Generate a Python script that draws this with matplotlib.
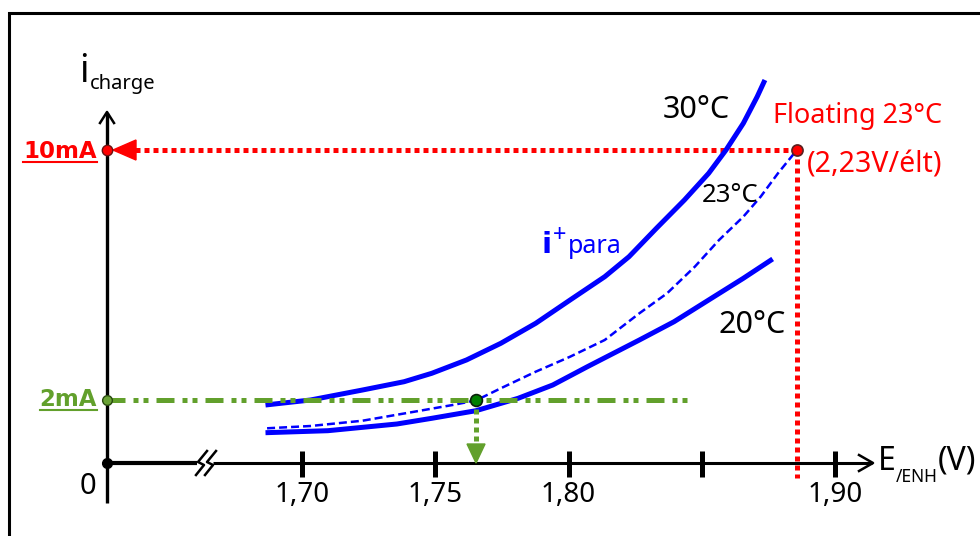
import matplotlib
matplotlib.use('Agg')
import matplotlib.pyplot as plt
from matplotlib.transforms import IdentityTransform
from matplotlib.lines import Line2D
from matplotlib.patches import Polygon

# ---------------- data : E (V / ENH)  vs  charge current (mA) ----------------
v_30 = [1.6863, 1.7032, 1.7227, 1.7383, 1.7487, 1.7617, 1.7746, 1.7877, 1.8006, 1.8136,
        1.8227, 1.8331, 1.8435, 1.8526, 1.8591, 1.8656, 1.8708, 1.8737]
i_30 = [1.853, 2.013, 2.332, 2.597, 2.866, 3.291, 3.824, 4.463, 5.208, 5.952,
        6.591, 7.508, 8.403, 9.256, 10.0, 10.853, 11.703, 12.236]

v_23 = [1.6869, 1.7032, 1.7227, 1.7422, 1.7565, 1.7653, 1.7746, 1.7877, 1.8006, 1.8136,
        1.8266, 1.8370, 1.8474, 1.8565, 1.8656, 1.8721, 1.8786, 1.8857]
i_23 = [1.109, 1.182, 1.351, 1.639, 1.853, 2.0, 2.387, 2.917, 3.396, 3.930,
        4.783, 5.422, 6.272, 7.125, 7.869, 8.508, 9.256, 10.0]

v_20 = [1.6863, 1.7097, 1.7356, 1.7487, 1.7653, 1.7811, 1.7941, 1.8071, 1.8266, 1.8396,
        1.8526, 1.8656, 1.8766]
i_20 = [0.968, 1.032, 1.246, 1.428, 1.671, 2.067, 2.492, 3.077, 3.930, 4.514,
        5.208, 5.901, 6.518]

tick_values = [1.70, 1.75, 1.80, 1.85, 1.90]
tick_labels = ['1,70', '1,75', '1,80', '', '1,90']

float_v, float_i = 1.8857, 10.0      # floating point 23 °C
charge_v, charge_i = 1.7653, 2.0     # 2 mA on the 23 °C curve
green_end_v = 1.8463                  # end of the 2 mA guide line

# ---------------- layout (pixel <-> data mapping for the schematic) ----------------
W, H = 980, 536
X0, PX0, SX = 1.70, 302.0, 2665.0     # 1.70 V at px 302, 2665 px / V
PY0, SY = 463.0, 31.3                 # 0 mA at py 463, 31.3 px / mA


def Dx(px):
    return X0 + (px - PX0) / SX


def Dy(py):
    return (PY0 - py) / SY


yaxis_v = Dx(107)

plt.rcParams['font.family'] = ['Noto Sans', 'DejaVu Sans']
BOLD = ['DejaVu Sans']

BLUE = '#0000ff'
RED = '#ff0000'
GREEN = '#62a02c'

fig = plt.figure(figsize=(W / 100, H / 100), dpi=100)
ax = fig.add_axes([0, 0, 1, 1])
ax.set_xlim(Dx(0), Dx(W))
ax.set_ylim(Dy(H), Dy(0))
ax.axis('off')

# frame
ax.plot([Dx(9.5), Dx(9.5), Dx(995)], [Dy(560), Dy(12.5), Dy(12.5)], color='black',
        lw=2.2, clip_on=False, solid_joinstyle='miter')

# y axis
ax.plot([yaxis_v, yaxis_v], [Dy(503), Dy(113)], color='black', lw=2.4, solid_capstyle='butt')
ax.plot([Dx(100), yaxis_v, Dx(114)], [Dy(123), Dy(112), Dy(123)], color='black', lw=1.8)

# x axis (broken)
ax.plot([yaxis_v, Dx(197)], [0, 0], color='black', lw=3.0, solid_capstyle='butt')
ax.plot([Dx(213), Dx(872)], [0, 0], color='black', lw=2.2, solid_capstyle='butt')
ax.plot([Dx(859), Dx(873), Dx(859)], [Dy(455), 0, Dy(471)], color='black', lw=1.8)
for cx in (201, 210):
    rel = [(6, -12), (-3, -1), (3, 2), (-5, 12)]
    ax.plot([Dx(cx + a) for a, b in rel], [Dy(PY0 + b) for a, b in rel], color='black', lw=1.8)

# ticks
for tv, tl in zip(tick_values, tick_labels):
    ax.plot([tv, tv], [Dy(451), Dy(477)], color='black', lw=3.6, solid_capstyle='butt')
    if tl:
        ax.text(tv, Dy(495), tl, ha='center', va='center', fontsize=20, color='black')
ax.plot([yaxis_v], [0], 'o', color='black', ms=7, zorder=6)

# red guide lines (floating)
ax.plot([float_v, Dx(135)], [float_i, float_i], color=RED, lw=3.6, dashes=(1.0, 0.8), zorder=2)
ax.plot([float_v, float_v], [float_i, Dy(478)], color=RED, lw=3.6, dashes=(1.0, 0.8), zorder=2)
ax.add_patch(Polygon([(yaxis_v + 6 / SX, float_i), (Dx(136), float_i + 10 / SY),
                      (Dx(136), float_i - 10 / SY)], closed=True, color=RED, zorder=2))

# curves
ax.plot(v_30, i_30, color=BLUE, lw=3.6, solid_capstyle='butt', solid_joinstyle='round', zorder=3)
ax.plot(v_20, i_20, color=BLUE, lw=3.6, solid_capstyle='butt', solid_joinstyle='round', zorder=3)
ax.plot(v_23, i_23, color=BLUE, lw=1.8, dashes=(3.2, 1.6), zorder=3)

# green guide lines
ax.plot([yaxis_v, green_end_v], [charge_i, charge_i], color=GREEN, lw=3.6,
        dashes=(3.6, 1.6, 1.0, 1.0, 1.0, 1.6), zorder=4)
ax.plot([charge_v, charge_v], [charge_i, Dy(446)], color=GREEN, lw=3.6,
        dashes=(1.0, 0.8), zorder=4)
ax.add_patch(Polygon([(charge_v, 0), (charge_v - 9 / SX, 19 / SY), (charge_v + 9 / SX, 19 / SY)],
                     closed=True, color=GREEN, zorder=4))

# points
ax.plot([yaxis_v], [float_i], 'o', mfc=RED, mec='#6a1010', mew=1.0, ms=7.5, zorder=6)
ax.plot([float_v], [float_i], 'o', mfc=RED, mec='#5a2020', mew=1.2, ms=8, zorder=6)
ax.plot([yaxis_v], [charge_i], 'o', mfc='#6aa336', mec='#2a4a10', mew=1.0, ms=7, zorder=6)
ax.plot([charge_v], [charge_i], 'o', mfc='#008000', mec='#0a200a', mew=1.2, ms=8.5, zorder=6)

# ---------------- texts (pixel positions) ----------------
I = IdentityTransform()


def T(px, py, s, **kw):
    return ax.text(px, H - py, s, transform=I, **kw)


T(88, 486, '0', ha='center', va='center', fontsize=21)
t10 = T(97, 151, '10mA', ha='right', va='center', fontsize=16.5, fontweight='bold',
        family=BOLD, color=RED)
t2 = T(97, 399, '2mA', ha='right', va='center', fontsize=16.5, fontweight='bold',
       family=BOLD, color=GREEN)
ti = T(79, 82, 'i', ha='left', va='baseline', fontsize=27)
T(663, 110, '30°C', ha='left', va='center', fontsize=22)
T(773, 116, 'Floating 23°C', ha='left', va='center', fontsize=19.5, color=RED)
T(807, 165, '(2,23V/élt)', ha='left', va='center', fontsize=20.5, color=RED)
T(702, 196, '23°C', ha='left', va='center', fontsize=18.5)
T(718, 325, '20°C', ha='left', va='center', fontsize=22)
tp = T(542, 253, 'i', ha='left', va='baseline', fontsize=21, fontweight='bold',
       family=BOLD, color=BLUE)
tE = T(878, 470, 'E', ha='left', va='baseline', fontsize=23)

fig.canvas.draw()
r = fig.canvas.get_renderer()

for t, py, col in ((t10, 162, RED), (t2, 410, GREEN)):
    bb = t.get_window_extent(r)
    fig.add_artist(Line2D([bb.x0, bb.x1], [H - py, H - py], color=col, lw=1.5, transform=I))

bb = ti.get_window_extent(r)
T(bb.x1 + 1, 89, 'charge', ha='left', va='baseline', fontsize=14.5)

bb = tp.get_window_extent(r)
tplus = T(bb.x1 + 1, 242, '+', ha='left', va='baseline', fontsize=17, color=BLUE)
fig.canvas.draw()
bb = tplus.get_window_extent(r)
T(bb.x1 + 1, 253, 'para', ha='left', va='baseline', fontsize=18, color=BLUE)

bb = tE.get_window_extent(r)
tsub = T(bb.x1, 482, '/ENH', ha='left', va='baseline', fontsize=12.5)
fig.canvas.draw()
bb = tsub.get_window_extent(r)
T(bb.x1, 470, '(V)', ha='left', va='baseline', fontsize=23)

fig.savefig('out.png', dpi=100)
